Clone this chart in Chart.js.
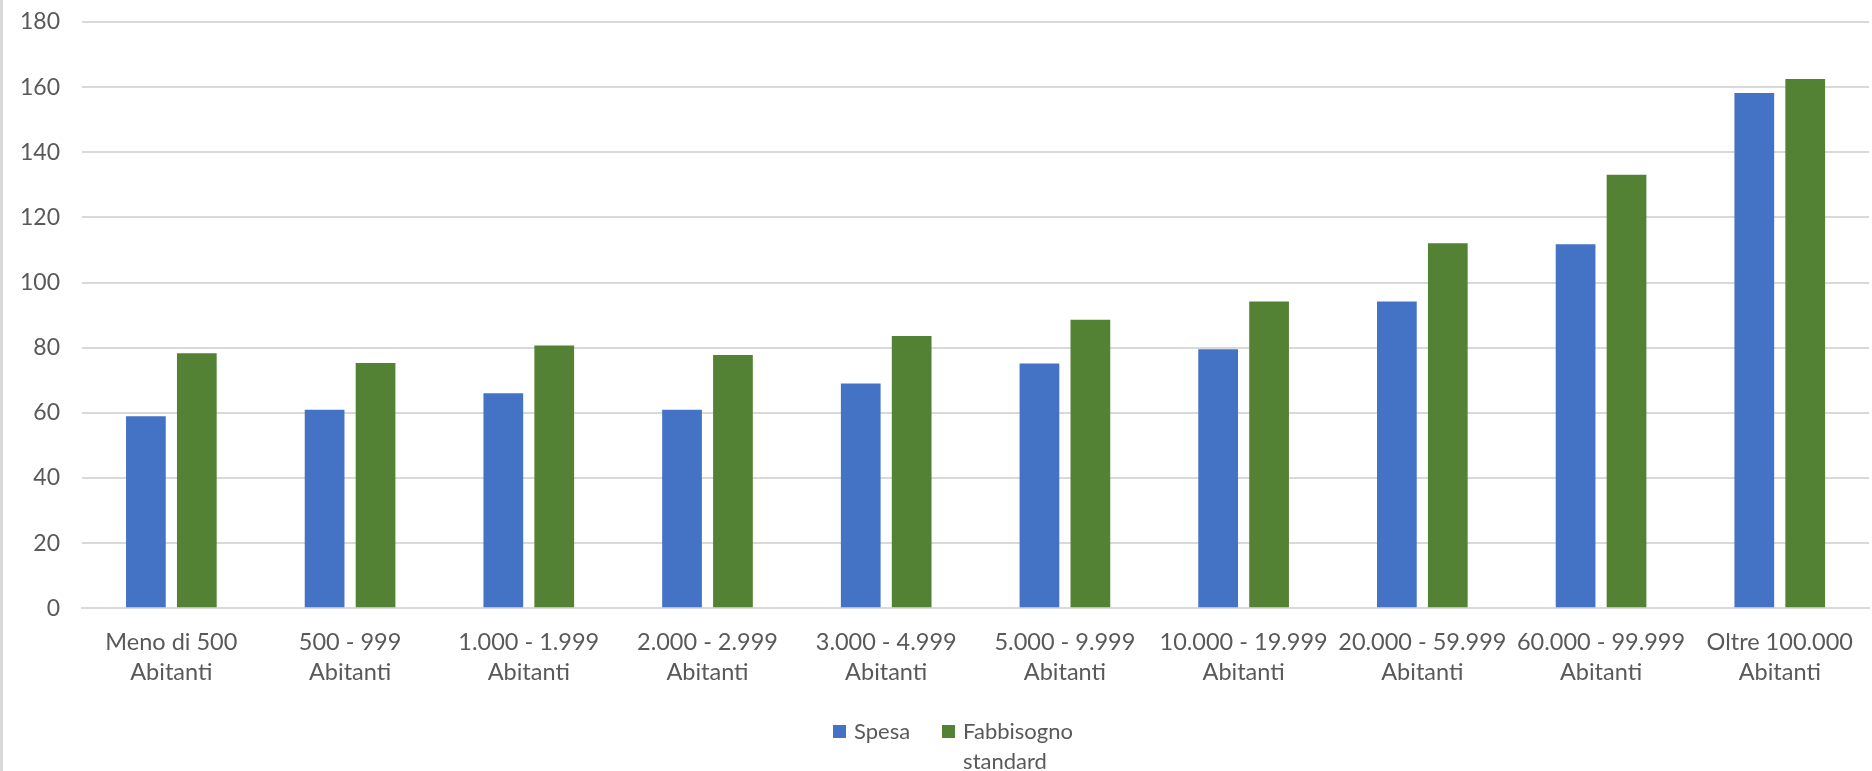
<!DOCTYPE html>
<html>
<head>
<meta charset="utf-8">
<script src="https://cdn.jsdelivr.net/npm/chart.js@4"></script>
<style>
    html, body { margin: 0; padding: 0; background: #fff; }
    #wrap { position: relative; width: 1872px; height: 771px; overflow: hidden; }
    #edge { position: absolute; left: 0; top: 0; width: 3px; height: 771px; background: #d9d9d9; }
    #legend {
        position: absolute; top: 716px; left: 833px;
        font-family: Lato, sans-serif; font-size: 22px; color: #595959;
        display: flex; align-items: flex-start;
    }
    .item { display: flex; align-items: flex-start; margin-right: 32px; }
    .box { width: 13px; height: 13px; margin-top: 9px; margin-right: 8px; flex: none; }
    .txt { line-height: 30px; }
</style>
</head>
<body>
<div id="wrap">
    <canvas id="spesaChart"></canvas>
    <div id="edge"></div>
    <div id="legend"></div>
</div>
<script>
// Categorie (fasce demografiche)
const categories = [
    ['Meno di 500', 'Abitanti'],
    ['500 - 999', 'Abitanti'],
    ['1.000 - 1.999', 'Abitanti'],
    ['2.000 - 2.999', 'Abitanti'],
    ['3.000 - 4.999', 'Abitanti'],
    ['5.000 - 9.999', 'Abitanti'],
    ['10.000 - 19.999', 'Abitanti'],
    ['20.000 - 59.999', 'Abitanti'],
    ['60.000 - 99.999', 'Abitanti'],
    ['Oltre 100.000', 'Abitanti']
];

// Valori
const spesa = [59, 61, 66, 61, 69, 75.2, 79.5, 94.2, 111.8, 158.2];
const fabbisogno = [78.3, 75.3, 80.7, 77.8, 83.6, 88.6, 94.2, 112.1, 133.1, 162.5];

// Asse y
const yTicks = [0, 20, 40, 60, 80, 100, 120, 140, 160, 180];

const seriesNames = ['Spesa', ['Fabbisogno', 'standard']];
const seriesColors = ['#4472c4', '#548235'];

const FONT = 'Lato, sans-serif';
const TEXT_COLOR = '#595959';
const GRID_COLOR = '#d9d9d9';

/**
 * Build the html legend under the chart
 */
function renderLegend() {
    const legend = document.getElementById('legend');
    legend.innerHTML = seriesNames.map((name, i) => {
        const text = Array.isArray(name) ? name.join('<br>') : name;
        return `<div class="item">
            <span class="box" style="background:${seriesColors[i]}"></span>
            <span class="txt">${text}</span>
        </div>`;
    }).join('');
}

function renderChart() {
    const ctx = document.getElementById('spesaChart');

    new Chart(ctx, {
        type: 'bar',
        data: {
            labels: categories,
            datasets: [
                {
                    label: 'Spesa',
                    data: spesa,
                    backgroundColor: seriesColors[0],
                    categoryPercentage: 0.57,
                    barPercentage: 0.78
                },
                {
                    label: 'Fabbisogno standard',
                    data: fabbisogno,
                    backgroundColor: seriesColors[1],
                    categoryPercentage: 0.57,
                    barPercentage: 0.78
                }
            ]
        },
        options: {
            responsive: true,
            maintainAspectRatio: false,
            animation: false,
            layout: {
                padding: { top: 22, right: 1, bottom: 64.5, left: 0 }
            },
            plugins: {
                legend: { display: false },
                tooltip: { enabled: false }
            },
            scales: {
                x: {
                    grid: { display: false, drawTicks: false },
                    border: { display: true, color: GRID_COLOR, width: 2 },
                    ticks: {
                        color: TEXT_COLOR,
                        padding: 19,
                        maxRotation: 0,
                        autoSkip: false,
                        font: { family: FONT, size: 23.5, lineHeight: 1.28 }
                    }
                },
                y: {
                    min: yTicks[0],
                    max: yTicks[yTicks.length - 1],
                    afterBuildTicks: scale => {
                        scale.ticks = yTicks.map(v => ({ value: v }));
                    },
                    afterFit: scale => {
                        // fixed axis width, no extra space above/below
                        scale.width = 82;
                        scale.paddingTop = 0;
                        scale.paddingBottom = 0;
                    },
                    grid: {
                        color: GRID_COLOR,
                        lineWidth: 2,
                        drawTicks: false
                    },
                    border: { display: false },
                    ticks: {
                        color: TEXT_COLOR,
                        padding: 22,
                        font: { family: FONT, size: 23 }
                    }
                }
            }
        }
    });
}

renderLegend();
renderChart();
</script>
</body>
</html>
